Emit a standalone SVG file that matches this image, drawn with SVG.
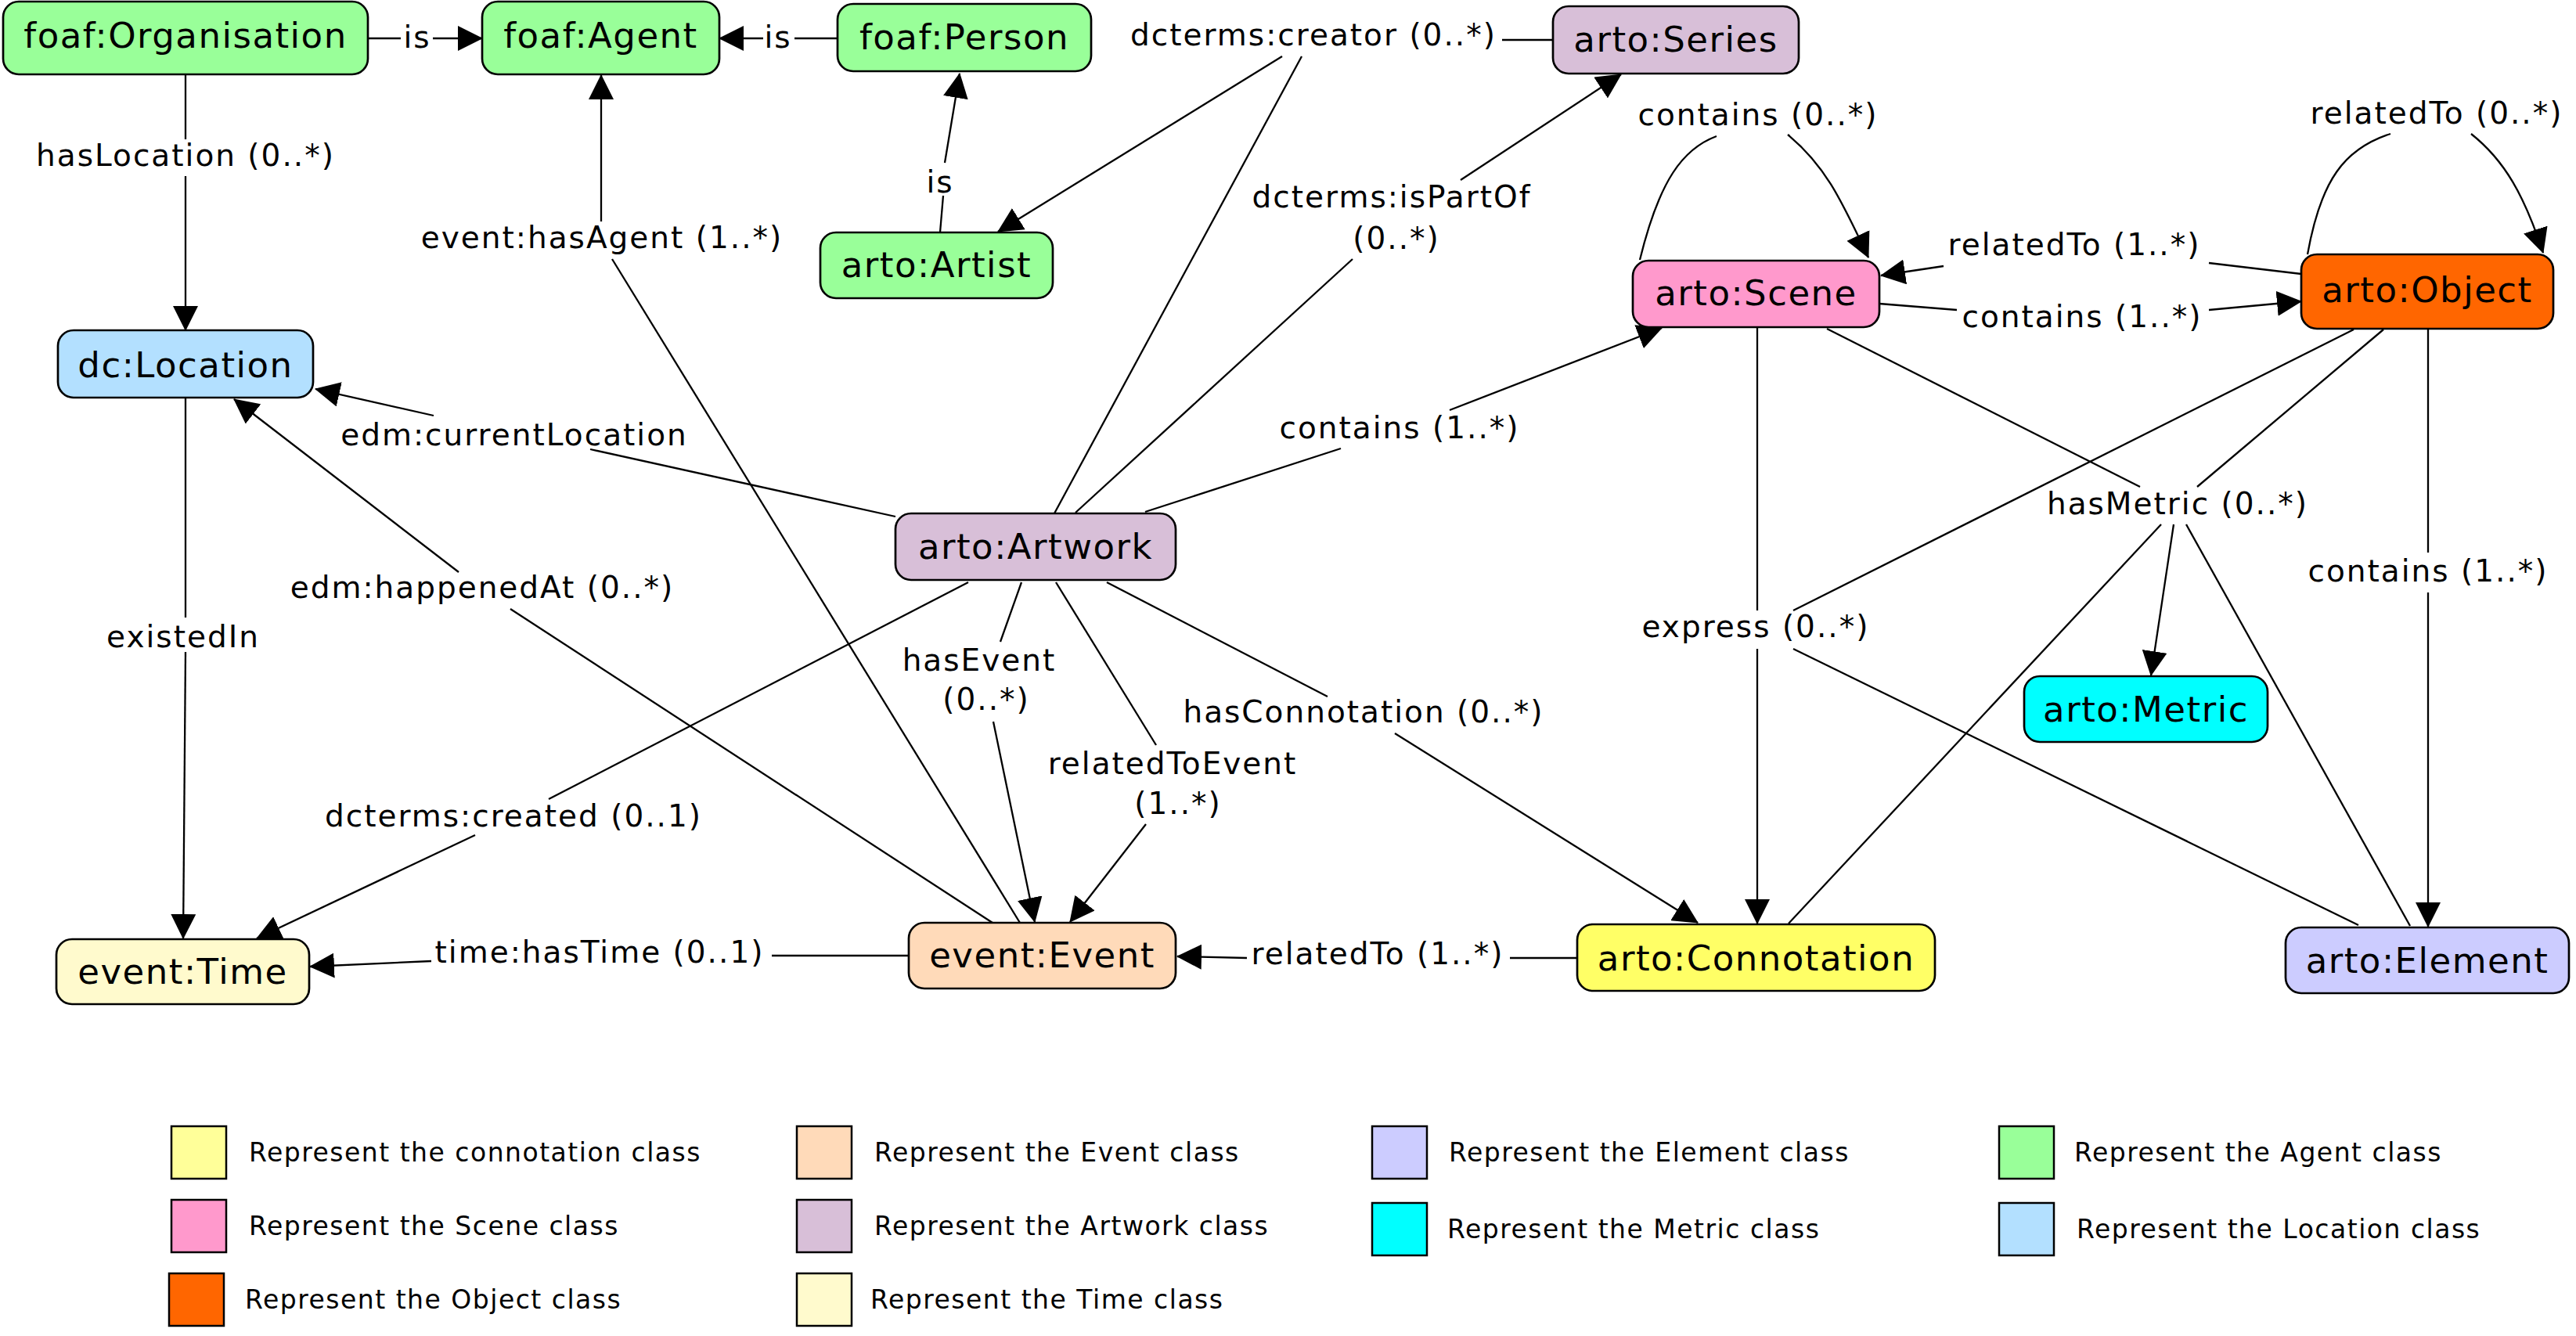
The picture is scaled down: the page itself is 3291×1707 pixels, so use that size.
<svg xmlns="http://www.w3.org/2000/svg" width="3291" height="1707" viewBox="0 0 3291 1707">
<style>
text { font-family: "DejaVu Sans", Verdana, sans-serif; fill: #000; }
.n { font-size: 45px; letter-spacing: 1.5px; text-anchor: middle; }
.e { font-size: 39px; letter-spacing: 2px; text-anchor: middle; }
.l { font-size: 33px; letter-spacing: 1.5px; text-anchor: start; }
.box { stroke: #000; stroke-width: 2.7; }
.lg { stroke: #000; stroke-width: 2.5; }
.c { fill: none; stroke: #000; stroke-width: 2.3; }
.a { marker-end: url(#arr); }
</style>
<defs>
<marker id="arr" markerUnits="userSpaceOnUse" markerWidth="32" markerHeight="32" viewBox="0 0 32 32" refX="31" refY="16" orient="auto">
<path d="M0,0 L32,16 L0,32 Z" fill="#000"/>
</marker>
</defs>
<rect x="0" y="0" width="3291" height="1707" fill="#fff"/>

<g id="connectors">
<g id="e-org-agent"><path class="c" d="M470,49 H512"/><path class="c a" d="M553,49 H616"/><text class="e" x="533" y="61">is</text></g>
<g id="e-person-agent"><path class="c" d="M1070,49 H1015"/><path class="c a" d="M975,49 H919"/><text class="e" x="994" y="61">is</text></g>
<g id="e-org-location"><path class="c" d="M237,96 V178"/><path class="c a" d="M237,225 V422"/><text class="e" x="237" y="212">hasLocation (0..*)</text></g>
<g id="e-event-agent"><path class="c" d="M1303,1179 L782,331"/><path class="c a" d="M768,283 V96"/><text class="e" x="769" y="317">event:hasAgent (1..*)</text></g>
<g id="e-artist-person"><path class="c" d="M1201,297 L1205,250"/><path class="c a" d="M1207,208 L1226,94"/><text class="e" x="1201" y="246">is</text></g>
<g id="e-creator"><path class="c" d="M1984,51 H1919"/><path class="c a" d="M1638,72 L1275,296"/><path class="c" d="M1663,72 L1347,656"/><text class="e" x="1678" y="58">dcterms:creator (0..*)</text></g>
<g id="e-ispartof"><path class="c a" d="M1866,230 L2071,95"/><path class="c" d="M1728,331 L1374,655"/><text class="e" x="1778" y="265">dcterms:isPartOf</text><text class="e" x="1784" y="318">(0..*)</text></g>
<g id="e-artwork-scene"><path class="c" d="M1713,573 L1463,654"/><path class="c a" d="M1852,524 L2123,419"/><text class="e" x="1788" y="560">contains (1..*)</text></g>
<g id="e-currentlocation"><path class="c" d="M754,574 L1144,660"/><path class="c a" d="M554,531 L403,497"/><text class="e" x="657" y="569">edm:currentLocation</text></g>
<g id="e-happenedat"><path class="c a" d="M586,731 L299,510"/><path class="c" d="M652,778 L1268,1179"/><text class="e" x="616" y="764">edm:happenedAt (0..*)</text></g>
<g id="e-created"><path class="c" d="M701,1021 L1237,744"/><path class="c a" d="M607,1067 L328,1199"/><text class="e" x="656" y="1056">dcterms:created (0..1)</text></g>
<g id="e-existedin"><path class="c" d="M237,508 V789"/><path class="c a" d="M237,833 L234,1199"/><text class="e" x="234" y="827">existedIn</text></g>
<g id="e-hastime"><path class="c" d="M1161,1221 H986"/><path class="c a" d="M551,1228 L396,1235"/><text class="e" x="766" y="1230">time:hasTime (0..1)</text></g>
<g id="e-hasevent"><path class="c" d="M1305,744 L1278,820"/><path class="c a" d="M1269,922 L1322,1178"/><text class="e" x="1251" y="857">hasEvent</text><text class="e" x="1260" y="907">(0..*)</text></g>
<g id="e-relatedtoevent"><path class="c" d="M1349,744 L1477,952"/><path class="c a" d="M1464,1053 L1367,1178"/><text class="e" x="1498" y="989">relatedToEvent</text><text class="e" x="1505" y="1040">(1..*)</text></g>
<g id="e-hasconnotation"><path class="c" d="M1414,744 L1696,890"/><path class="c a" d="M1782,937 L2169,1179"/><text class="e" x="1742" y="923">hasConnotation (0..*)</text></g>
<g id="e-connotation-event"><path class="c" d="M2015,1224 H1929"/><path class="c a" d="M1593,1224 L1504,1222"/><text class="e" x="1760" y="1232">relatedTo (1..*)</text></g>
<g id="e-scene-loop"><path class="c" d="M2095,332 C2120,230 2150,190 2193,174"/><path class="c a" d="M2284,172 C2330,210 2350,250 2387,329"/><text class="e" x="2246" y="160">contains (0..*)</text></g>
<g id="e-object-loop"><path class="c" d="M2948,325 C2965,230 2995,190 3054,171"/><path class="c a" d="M3157,171 C3200,205 3225,250 3249,323"/><text class="e" x="3113" y="158">relatedTo (0..*)</text></g>
<g id="e-object-scene"><path class="c" d="M2940,350 L2822,336"/><path class="c a" d="M2483,340 L2403,352"/><text class="e" x="2650" y="326">relatedTo (1..*)</text></g>
<g id="e-scene-object"><path class="c" d="M2401,388 L2500,396"/><path class="c a" d="M2822,396 L2940,385"/><text class="e" x="2660" y="418">contains (1..*)</text></g>
<g id="e-express"><path class="c" d="M2245,418 V780"/><path class="c a" d="M2245,829 V1180"/><path class="c" d="M3007,421 L2291,780"/><path class="c" d="M2291,829 L3013,1182"/><text class="e" x="2243" y="814">express (0..*)</text></g>
<g id="e-hasmetric"><path class="c" d="M2334,420 L2734,622"/><path class="c" d="M3045,421 L2807,622"/><path class="c" d="M2761,670 L2285,1180"/><path class="c a" d="M2777,670 L2748,863"/><path class="c" d="M2793,670 L3079,1183"/><text class="e" x="2782" y="657">hasMetric (0..*)</text></g>
<g id="e-object-element"><path class="c" d="M3102,420 V706"/><path class="c a" d="M3102,757 V1184"/><text class="e" x="3102" y="743">contains (1..*)</text></g>
</g>

<g id="node-organisation"><rect class="box" x="4" y="2" width="466" height="93" rx="20" fill="#99ff99"/><text class="n" x="237" y="61">foaf:Organisation</text></g>
<g id="node-agent"><rect class="box" x="616" y="2" width="303" height="93" rx="20" fill="#99ff99"/><text class="n" x="767.5" y="61">foaf:Agent</text></g>
<g id="node-person"><rect class="box" x="1070" y="5" width="324" height="86" rx="20" fill="#99ff99"/><text class="n" x="1232" y="63">foaf:Person</text></g>
<g id="node-artist"><rect class="box" x="1048" y="297" width="297" height="84" rx="20" fill="#99ff99"/><text class="n" x="1196.5" y="354">arto:Artist</text></g>
<g id="node-series"><rect class="box" x="1984" y="8" width="314" height="86" rx="20" fill="#d8bfd8"/><text class="n" x="2141" y="66">arto:Series</text></g>
<g id="node-scene"><rect class="box" x="2086" y="333" width="315" height="85" rx="20" fill="#ff99cc"/><text class="n" x="2243.5" y="390">arto:Scene</text></g>
<g id="node-object"><rect class="box" x="2940" y="325" width="322" height="95" rx="20" fill="#ff6600"/><text class="n" x="3101" y="386">arto:Object</text></g>
<g id="node-location"><rect class="box" x="74" y="422" width="326" height="86" rx="20" fill="#b3e0ff"/><text class="n" x="237" y="482">dc:Location</text></g>
<g id="node-artwork"><rect class="box" x="1144" y="656" width="358" height="85" rx="20" fill="#d8bfd8"/><text class="n" x="1323" y="714">arto:Artwork</text></g>
<g id="node-time"><rect class="box" x="72" y="1200" width="323" height="83" rx="20" fill="#fffacd"/><text class="n" x="233.5" y="1257">event:Time</text></g>
<g id="node-event"><rect class="box" x="1161" y="1179" width="341" height="84" rx="20" fill="#ffdab9"/><text class="n" x="1331.5" y="1236">event:Event</text></g>
<g id="node-connotation"><rect class="box" x="2015" y="1181" width="457" height="85" rx="20" fill="#ffff66"/><text class="n" x="2243.5" y="1240">arto:Connotation</text></g>
<g id="node-metric"><rect class="box" x="2586" y="864" width="311" height="84" rx="20" fill="#00ffff"/><text class="n" x="2741.5" y="922">arto:Metric</text></g>
<g id="node-element"><rect class="box" x="2920" y="1185" width="362" height="84" rx="20" fill="#ccccff"/><text class="n" x="3101" y="1243">arto:Element</text></g>

<g id="legend">
<rect class="lg" x="219" y="1439" width="70" height="67" fill="#ffff99"/><text class="l" x="318" y="1484">Represent the connotation class</text>
<rect class="lg" x="219" y="1533" width="70" height="67" fill="#ff99cc"/><text class="l" x="318" y="1578">Represent the Scene class</text>
<rect class="lg" x="216" y="1627" width="70" height="67" fill="#ff6600"/><text class="l" x="313" y="1672">Represent the Object class</text>
<rect class="lg" x="1018" y="1439" width="70" height="67" fill="#ffdab9"/><text class="l" x="1117" y="1484">Represent the Event class</text>
<rect class="lg" x="1018" y="1533" width="70" height="67" fill="#d8bfd8"/><text class="l" x="1117" y="1578">Represent the Artwork class</text>
<rect class="lg" x="1018" y="1627" width="70" height="67" fill="#fffacd"/><text class="l" x="1112" y="1672">Represent the Time class</text>
<rect class="lg" x="1753" y="1439" width="70" height="67" fill="#ccccff"/><text class="l" x="1851" y="1484">Represent the Element class</text>
<rect class="lg" x="1753" y="1537" width="70" height="67" fill="#00ffff"/><text class="l" x="1849" y="1582">Represent the Metric class</text>
<rect class="lg" x="2554" y="1439" width="70" height="67" fill="#99ff99"/><text class="l" x="2650" y="1484">Represent the Agent class</text>
<rect class="lg" x="2554" y="1537" width="70" height="67" fill="#b3e0ff"/><text class="l" x="2653" y="1582">Represent the Location class</text>
</g>
</svg>
